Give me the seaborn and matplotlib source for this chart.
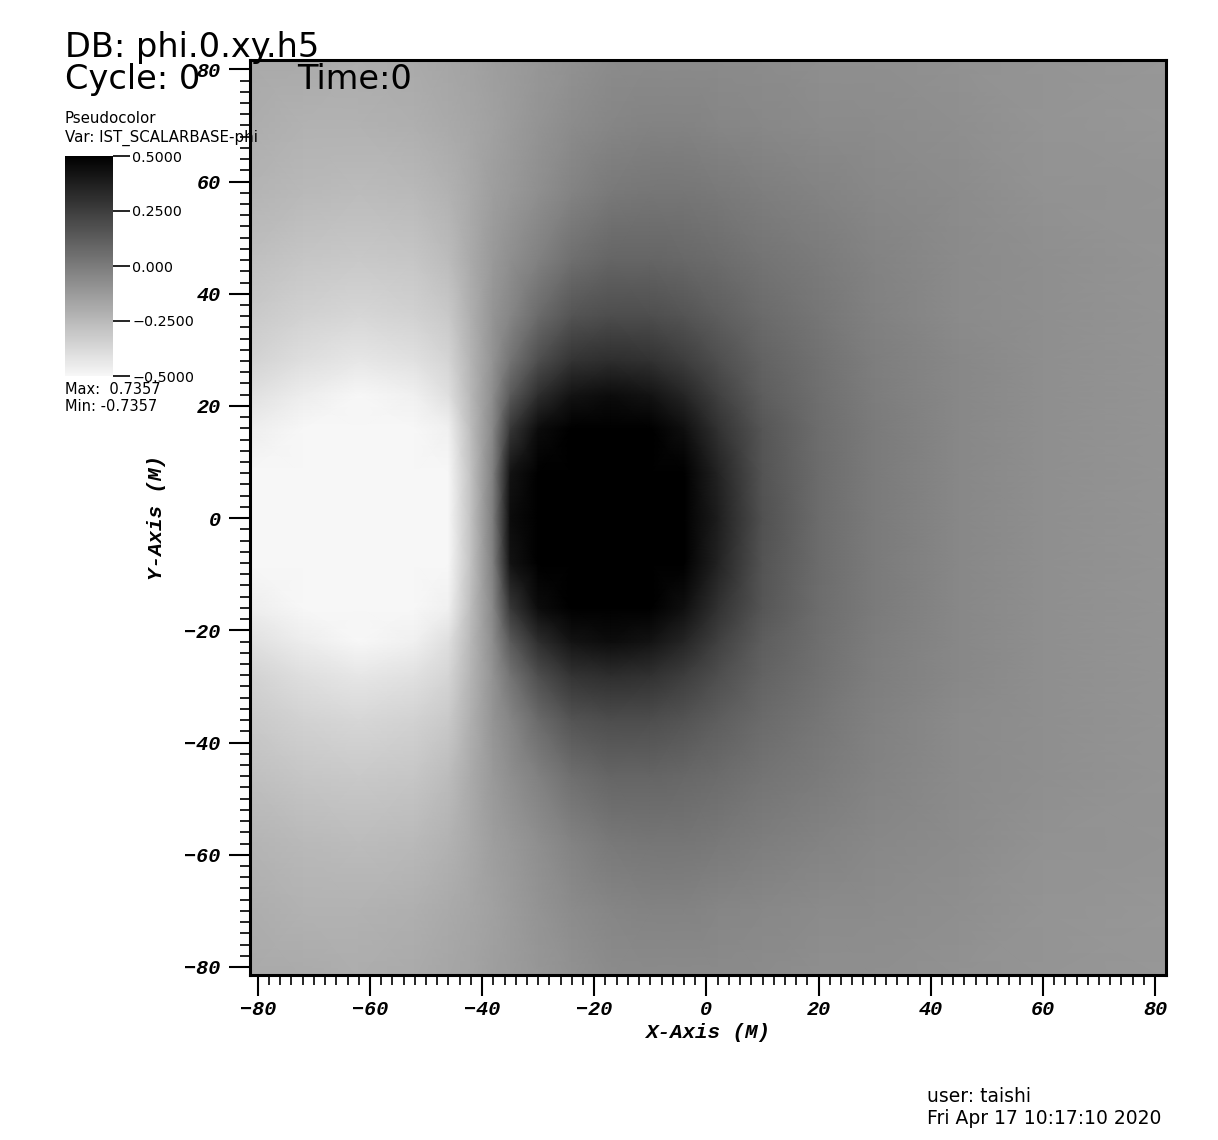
import numpy as np
import matplotlib
matplotlib.use("Agg")
import matplotlib.pyplot as plt
import seaborn as sns
from matplotlib.colors import LinearSegmentedColormap, Normalize
from matplotlib.ticker import MultipleLocator, FixedLocator
from matplotlib.font_manager import FontProperties

sns.set_style("ticks")
plt.rcParams["font.family"] = ["DejaVu Sans"]
plt.rcParams["text.color"] = "black"
plt.rcParams["axes.labelcolor"] = "black"
plt.rcParams["xtick.color"] = "black"
plt.rcParams["ytick.color"] = "black"

# ---- data: phi sampled on a rectilinear grid (upper half, y >= 0; field is mirror-symmetric in y)
x_nodes = [-82, -72, -62, -52, -46, -42, -38, -35, -30, -24, -17, -10, -4, 2, 10, 20, 30, 45, 60, 82]
y_nodes_upper = [0, 8, 16, 22, 28, 36, 46, 58, 70, 82]

phi_y00 = [-0.55, -0.68, -0.74, -0.68, -0.56, -0.28, 0.00, 0.45, 0.65, 0.72, 0.74, 0.70, 0.58, 0.38, 0.17, 0.065, 0.00, -0.05, -0.08, -0.10]
phi_y08 = [-0.52, -0.63, -0.68, -0.64, -0.53, -0.28, -0.01, 0.42, 0.62, 0.70, 0.71, 0.67, 0.55, 0.36, 0.16, 0.06, 0.00, -0.05, -0.08, -0.10]
phi_y16 = [-0.46, -0.54, -0.58, -0.55, -0.47, -0.26, -0.04, 0.27, 0.45, 0.55, 0.58, 0.54, 0.44, 0.30, 0.15, 0.055, 0.00, -0.05, -0.08, -0.10]
phi_y22 = [-0.40, -0.46, -0.50, -0.47, -0.40, -0.24, -0.07, 0.13, 0.31, 0.42, 0.45, 0.42, 0.35, 0.24, 0.12, 0.05, -0.005, -0.05, -0.08, -0.10]
phi_y28 = [-0.35, -0.40, -0.43, -0.41, -0.36, -0.23, -0.09, 0.03, 0.18, 0.29, 0.32, 0.30, 0.25, 0.18, 0.10, 0.04, -0.01, -0.05, -0.08, -0.10]
phi_y36 = [-0.31, -0.35, -0.37, -0.35, -0.31, -0.21, -0.10, -0.04, 0.07, 0.16, 0.19, 0.18, 0.16, 0.12, 0.07, 0.02, -0.02, -0.06, -0.08, -0.10]
phi_y46 = [-0.27, -0.30, -0.31, -0.30, -0.26, -0.19, -0.12, -0.08, -0.02, 0.05, 0.09, 0.09, 0.08, 0.06, 0.03, 0.00, -0.03, -0.06, -0.08, -0.10]
phi_y58 = [-0.23, -0.25, -0.26, -0.25, -0.22, -0.18, -0.14, -0.12, -0.08, -0.03, 0.01, 0.02, 0.02, 0.01, -0.01, -0.03, -0.05, -0.07, -0.09, -0.10]
phi_y70 = [-0.20, -0.22, -0.22, -0.21, -0.19, -0.17, -0.15, -0.13, -0.10, -0.07, -0.04, -0.03, -0.03, -0.04, -0.05, -0.06, -0.07, -0.08, -0.10, -0.11]
phi_y82 = [-0.18, -0.19, -0.20, -0.19, -0.17, -0.16, -0.14, -0.13, -0.11, -0.09, -0.07, -0.06, -0.06, -0.06, -0.07, -0.08, -0.08, -0.09, -0.10, -0.11]

x_ticks = [-80, -60, -40, -20, 0, 20, 40, 60, 80]
y_ticks = [-80, -60, -40, -20, 0, 20, 40, 60, 80]
cbar_ticks = [0.5, 0.25, 0.0, -0.25, -0.5]
cbar_labels = ["0.5000", "0.2500", "0.000", "\u22120.2500", "\u22120.5000"]
var_max = "0.7357"
var_min = "-0.7357"

# ---- build full grid by mirroring the upper half
half = np.array([phi_y00, phi_y08, phi_y16, phi_y22, phi_y28,
                 phi_y36, phi_y46, phi_y58, phi_y70, phi_y82])
Z = np.vstack([half[:0:-1], half])
yu = np.array(y_nodes_upper, dtype=float)
y_full = np.concatenate([-yu[:0:-1], yu])
X, Y = np.meshgrid(np.array(x_nodes, dtype=float), y_full)

W, H = 1218, 1140
fig = plt.figure(figsize=(W / 100, H / 100), dpi=100)
fig.patch.set_facecolor("white")

cmap = LinearSegmentedColormap.from_list("visit_gray", ["#f7f7f7", "#000000"])
norm = Normalize(vmin=-0.5, vmax=0.5)

ax = fig.add_axes([250 / W, 1 - 975 / H, (1166 - 250) / W, (975 - 60) / H])
mesh = ax.pcolormesh(X, Y, Z, shading="gouraud", cmap=cmap, norm=norm, rasterized=True)
ax.set_xlim(-81.4, 81.96)
ax.set_ylim(-81.43, 81.66)

ax.xaxis.set_major_locator(FixedLocator(x_ticks))
ax.yaxis.set_major_locator(FixedLocator(y_ticks))
ax.xaxis.set_minor_locator(MultipleLocator(2))
ax.yaxis.set_minor_locator(MultipleLocator(2))
ax.tick_params(which="major", direction="out", length=15, width=1.5, color="black",
               labelcolor="black", top=False, right=False)
ax.tick_params(axis="x", which="major", pad=3)
ax.tick_params(axis="y", which="major", pad=6)
ax.tick_params(which="minor", direction="out", length=7, width=1.2, color="black",
               top=False, right=False)
for s in ax.spines.values():
    s.set_linewidth(2.2)
    s.set_color("black")

tick_fp = FontProperties(family="Liberation Mono", weight="bold", style="italic", size=14.5)
for lab in ax.get_xticklabels() + ax.get_yticklabels():
    lab.set_fontproperties(tick_fp)
    lab.set_color("black")

label_fp = FontProperties(family="Liberation Mono", weight="bold", style="italic", size=15)
ax.set_xlabel("X-Axis (M)", fontproperties=label_fp, color="black")
ax.set_ylabel("Y-Axis (M)", fontproperties=label_fp, color="black")
ax.xaxis.set_label_coords(0.5, (975 - 1032) / 915)
ax.xaxis.label.set_va("center")
ax.yaxis.set_label_coords((157 - 250) / 916, 0.5)
ax.yaxis.label.set_va("center")
ax.yaxis.label.set_ha("center")

# ---- colorbar legend
cax = fig.add_axes([65 / W, 1 - 376 / H, 48 / W, 220 / H])
cb = fig.colorbar(mesh, cax=cax, ticks=cbar_ticks)
cb.outline.set_visible(False)
cb.ax.set_yticklabels(cbar_labels)
cax.tick_params(which="major", direction="out", length=12, width=1.2, pad=2,
                labelsize=10.3, colors="black")
cax.tick_params(which="minor", length=0)

# ---- annotations
fig.text(65 / W, 1 - 57 / H, "DB: phi.0.xy.h5", fontsize=24.2, va="baseline", ha="left", color="black")
fig.text(65 / W, 1 - 89 / H, "Cycle: 0", fontsize=24.2, va="baseline", ha="left", color="black")
fig.text(297 / W, 1 - 89 / H, "Time:0", fontsize=24.2, va="baseline", ha="left", color="black")
fig.text(65 / W, 1 - 123 / H, "Pseudocolor", fontsize=10.8, va="baseline", ha="left", color="black")
fig.text(65 / W, 1 - 142 / H, "Var: IST_SCALARBASE-phi", fontsize=10.8, va="baseline", ha="left", color="black")
fig.text(65 / W, 1 - 394 / H, "Max:  " + var_max, fontsize=10.5, va="baseline", ha="left", color="black")
fig.text(65 / W, 1 - 411 / H, "Min: " + var_min, fontsize=10.5, va="baseline", ha="left", color="black")
fig.text(927 / W, 1 - 1102 / H, "user: taishi", fontsize=13.5, va="baseline", ha="left", color="black")
fig.text(927 / W, 1 - 1124 / H, "Fri Apr 17 10:17:10 2020", fontsize=13.5, va="baseline", ha="left", color="black")

fig.savefig("out.png", dpi=100, facecolor="white")
